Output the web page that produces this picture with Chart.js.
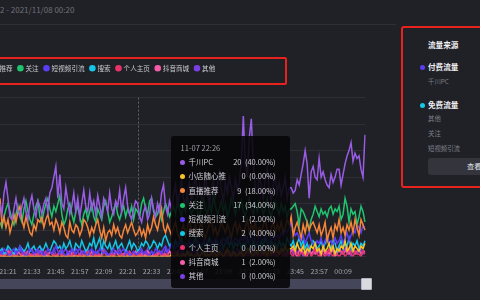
<!DOCTYPE html>
<html>
<head>
<meta charset="utf-8">
<script src="https://cdn.jsdelivr.net/npm/chart.js@4.4.1/dist/chart.umd.min.js"></script>
<style>
body { margin: 0; width: 480px; height: 300px; overflow: hidden; position: relative;
       background: #202127; font-family: "Noto Sans CJK SC", "Noto Sans", sans-serif; }
#range { position: absolute; left: 0; top: 4px; font-size: 8px; color: #6f7078; white-space: nowrap; }
#topline { position: absolute; left: 0; top: 24px; width: 396px; height: 1px; background: #2f3037; }
#wrap { position: absolute; left: -107px; top: 59px; width: 475px; height: 220px; }
#legendMark { position: absolute; left: -10px; top: 57px; width: 297px; height: 28px; box-sizing: border-box;
              border: 2px solid #e8221c; border-radius: 2px; }
#tip { position: absolute; top: 136px; width: 119px; height: 152px; box-sizing: border-box;
       background: rgba(6, 6, 8, 0.88); border-radius: 3px; padding: 4px 14px 0 9px;
       color: #cfd0d6; font-size: 7.5px; opacity: 0; }
#tip .tt { height: 15px; line-height: 15px; color: #a2a3ab; margin-left: 1px; }
#tip .row { height: 14.3px; line-height: 14.3px; display: flex; align-items: center; white-space: nowrap; }
#tip .row i { width: 5px; height: 5px; border-radius: 50%; margin-right: 4px; flex: none; }
#tip .row b { margin-left: auto; font-weight: normal; }
#slider { position: absolute; left: 0; top: 279px; width: 362px; height: 10px; background: #45465a; }
#handle { position: absolute; left: 361px; top: 278px; width: 11px; height: 12px; box-sizing: border-box;
          background: #d9d9e1; border: 1px solid #b5b5be; border-radius: 1px; }
#side { position: absolute; left: 401px; top: 26px; width: 100px; height: 162px; box-sizing: border-box;
        border: 2px solid #e8221c; border-radius: 3px; }
.s { position: absolute; white-space: nowrap; }
.hd { color: #f0f0f4; font-weight: bold; font-size: 7.6px; }
.sub { color: #7e7f88; font-size: 6.4px; }
.dot { position: absolute; width: 5px; height: 5px; border-radius: 50%; }
#btn { position: absolute; left: 428px; top: 158px; width: 80px; height: 17px; background: #34353c; border-radius: 3px; }
</style>
</head>
<body>
<div id="range">2 - 2021/11/08 00:20</div>
<div id="topline"></div>
<div id="wrap"><canvas id="flowChart"></canvas></div>
<div id="legendMark"></div>
<div id="slider"></div>
<div id="handle"></div>

<div id="side"></div>
<div class="s hd" style="left:428px; top:39px;">流量来源</div>
<div class="dot" style="left:420px; top:65px; background:#5b3df5;"></div>
<div class="s hd" style="left:428px; top:61px;">付费流量</div>
<div class="s sub" style="left:428px; top:77px;">千川PC</div>
<div class="dot" style="left:420px; top:103px; background:#13c9ea;"></div>
<div class="s hd" style="left:428px; top:99px;">免费流量</div>
<div class="s sub" style="left:428px; top:114px;">其他</div>
<div class="s sub" style="left:428px; top:129px;">关注</div>
<div class="s sub" style="left:428px; top:144px;">短视频引流</div>
<div id="btn"></div>
<div class="s" style="left:467px; top:161px; color:#e6e6ea; font-size:7.2px;">查看详情</div>

<div id="tip"></div>

<script>
const datePrefix = '11-07';
const startTime = '21:17';
const activeTime = '22:26';

const seriesNames = ['千川PC', '小店随心推', '直播推荐', '关注', '短视频引流', '搜索', '个人主页', '抖音商城', '其他'];
const seriesColors = ['#9a5ce6', '#f7c325', '#f6853a', '#1fc46e', '#5b3df5', '#13c7e9', '#e8336b', '#f45ba8', '#7b3fe4'];

const tickLabels = ['21:21', '21:33', '21:45', '21:57', '22:09', '22:21', '22:33', '22:45', '22:57',
                    '23:09', '23:21', '23:33', '23:45', '23:57', '00:09'];

const qianchuanPC = [
    20,16,24,28,22,15,14,18,22,17,15,19,22,17,14,20,23,18,15,21,
    19,16,20,22,17,24,26,30,34,22,31,20,18,26,21,16,19,24,17,22,
    15,20,25,19,17,24,18,21,16,23,19,15,22,20,17,24,18,16,21,19,
    25,17,22,26,19,16,14,18,21,20,15,13,17,19,14,16,22,18,15,20,
    17,24,27,19,16,21,18,23,27,20,24,29,22,19,25,28,21,26,30,23,
    27,22,25,31,24,20,26,29,23,27,32,25,21,28,24,30,26,22,29,25,
    28,36,53,35,30,45,52,35,26,24,30,27,22,29,33,25,21,27,31,24,
    28,23,26,30,22,26,26,24,25,29,27,31,35,40,35,22,32,34,30,29,
    37,30,32,29,27,26,31,28,30,33,33,27,31,35,38,40,43,36,39,37,
    38,33,30,46
];
const xiaodian = [
    0,0,0,0,0,0,0,0,0,0,0,0,0,0,0,0,0,0,0,0,
    0,0,0,0,0,0,0,0,0,0,0,0,0,0,0,0,0,0,0,0,
    0,0,0,0,0,0,0,0,0,0,0,0,0,0,0,0,0,0,0,0,
    0,0,0,0,0,0,0,0,0,0,0,0,0,0,0,0,0,0,0,0,
    0,0,0,0,0,0,1,0,0,1,0,0,1,0,2,0,1,0,0,1,
    0,1,2,0,1,0,1,2,1,0,2,1,0,1,3,1,0,2,1,0,
    1,2,0,1,3,2,1,0,2,1,3,2,1,2,0,3,1,2,4,2,
    1,3,2,4,2,3,3,4,2,5,3,2,4,1,3,2,4,3,5,2,
    3,1,4,2,3,5,2,4,1,3,2,4,3,6,2,3,5,2,4,3,
    2,4,3,5
];
const zhibo = [
    22,12,15,11,14,9,12,16,13,17,19,14,11,15,12,9,8,12,10,14,
    13,15,11,14,16,12,13,10,14,12,9,13,11,8,7,13,10,9,12,11,
    8,10,14,13,11,8,11,9,12,14,10,7,11,6,9,10,8,12,9,11,
    8,7,10,12,9,11,13,10,8,9,11,8,10,7,12,9,11,15,12,10,
    14,18,11,9,12,10,8,11,13,9,7,10,12,8,11,14,10,9,12,8,
    11,13,9,7,10,12,14,9,11,8,10,13,11,9,12,10,7,11,13,9,
    12,10,8,11,14,9,12,10,13,8,11,9,12,14,10,8,11,13,9,12,
    10,13,9,11,14,12,15,8,11,13,10,7,12,9,13,10,12,13,11,9,
    12,8,10,13,6,9,11,7,12,10,14,9,11,8,12,10,13,9,14,11,
    8,14,12,10
];
const guanzhu = [
    13,11,15,18,20,17,14,12,16,19,15,13,18,21,17,14,12,16,19,21,
    15,13,17,20,22,18,15,19,17,20,23,16,12,14,18,20,16,13,17,19,
    15,12,16,18,14,17,20,15,13,18,16,14,19,21,17,13,15,18,20,16,
    14,17,19,15,18,16,19,14,18,17,15,20,22,18,16,21,22,17,15,16,
    19,14,17,20,18,15,17,19,16,21,18,15,20,17,22,19,16,18,21,17,
    15,19,22,18,16,20,17,23,19,16,18,21,17,20,15,18,22,19,16,20,
    18,21,17,15,19,22,18,16,20,17,21,19,16,18,22,17,15,19,21,18,
    16,20,17,19,15,18,18,19,20,17,12,18,17,15,13,10,14,16,19,17,
    15,18,16,17,15,18,19,16,18,17,19,14,16,22,19,13,18,16,17,12,
    15,19,17,13
];
const duanshipin = [
    2,1,3,2,1,0,2,3,1,2,4,2,1,0,1,3,2,1,2,3,
    1,2,0,1,3,2,1,2,4,2,1,3,1,0,2,1,3,2,1,2,
    3,1,2,1,0,2,3,1,2,1,3,2,1,2,0,1,2,3,1,2,
    1,2,3,1,2,0,1,2,1,1,2,3,1,2,1,0,2,1,3,2,
    2,1,3,4,2,3,5,4,3,5,6,4,3,5,4,6,5,3,4,6,
    5,4,6,7,5,4,6,5,7,6,4,5,7,6,5,8,6,5,7,6,
    5,7,6,8,6,5,7,9,6,5,8,7,6,8,7,5,9,7,6,8,
    7,9,8,10,9,11,13,10,8,9,7,6,8,5,7,9,6,5,4,6,
    5,7,4,6,8,5,6,4,7,5,6,8,5,7,9,6,8,10,9,12,
    11,9,12,10
];
const sousuo = [
    2,3,1,2,4,3,2,1,3,2,4,3,2,3,5,2,3,4,2,3,
    4,2,3,5,3,2,4,6,5,3,4,2,5,3,4,6,3,2,5,4,
    3,6,4,2,3,5,4,7,3,5,7,2,6,4,3,5,2,4,6,3,
    4,5,3,2,4,6,3,5,4,2,3,5,4,6,5,3,4,6,5,3,
    5,4,7,8,6,4,5,3,6,4,5,7,3,5,4,6,3,5,7,4,
    5,3,6,4,5,7,4,3,6,5,4,6,3,5,7,4,6,3,5,4,
    6,3,5,4,7,5,3,6,4,5,3,6,4,7,5,3,6,4,5,3,
    6,4,5,3,7,5,4,6,3,5,7,4,6,3,5,2,4,6,5,3,
    4,6,3,5,7,4,3,6,5,2,4,6,3,5,4,7,3,5,4,6,
    3,5,4,6
];
const gerenZhuye = [
    1,0,1,0,0,2,1,0,1,0,0,1,2,0,1,0,1,0,0,1,
    0,1,0,2,1,0,0,1,0,1,2,0,1,0,0,1,0,2,1,0,
    1,0,0,1,2,1,0,0,1,0,1,0,2,1,0,0,1,0,1,2,
    0,1,0,0,1,2,0,1,0,0,1,0,1,2,0,1,0,0,1,0,
    2,0,1,0,1,0,0,2,1,0,1,0,0,1,2,0,1,0,1,0,
    0,1,2,0,1,0,1,0,0,2,1,0,1,0,1,2,0,1,0,1,
    1,0,2,1,0,1,0,1,2,0,1,0,1,0,2,1,0,1,2,0,
    1,2,0,1,0,2,1,0,3,1,0,2,1,0,1,2,0,1,3,1,
    0,2,1,0,1,3,1,0,2,1,0,1,2,0,1,3,1,0,2,1,
    1,0,2,1
];
const douyinShangcheng = [
    0,1,0,1,2,0,1,1,0,2,1,0,1,0,2,1,0,1,1,0,
    2,1,0,1,0,2,1,1,0,1,2,0,1,0,1,2,1,0,1,0,
    1,2,0,1,1,0,2,1,0,1,0,1,2,1,0,1,1,0,2,1,
    0,1,1,2,0,1,0,1,2,1,0,1,1,0,2,1,0,1,0,1,
    2,0,1,1,0,2,1,0,1,2,0,1,1,0,2,1,1,0,1,2,
    0,1,2,1,0,1,3,1,0,2,1,1,0,2,1,0,1,2,0,1,
    2,1,0,1,2,1,0,3,1,2,0,1,2,1,0,2,1,3,1,0,
    2,1,3,0,2,1,2,3,1,0,2,3,1,2,0,3,1,2,1,3,
    2,0,3,1,2,1,3,2,0,1,3,2,1,2,4,1,2,3,1,2,
    3,1,2,2
];
const qita = [
    1,2,0,1,3,1,2,0,2,1,3,1,0,2,1,2,3,1,0,2,
    1,3,2,0,1,2,1,3,1,0,2,1,2,3,1,0,2,1,3,2,
    0,1,2,1,3,1,0,2,1,2,0,1,3,2,1,0,2,1,2,1,
    3,1,0,2,1,2,1,0,2,0,1,2,0,1,3,1,2,0,1,2,
    1,2,0,3,1,2,1,0,2,1,3,1,2,0,1,2,1,3,0,2,
    1,2,0,1,3,2,1,0,2,1,2,3,1,0,2,1,2,0,1,3,
    2,1,0,2,1,3,1,2,0,1,2,1,3,0,2,1,2,1,0,2,
    1,3,2,1,0,2,3,1,2,1,3,2,0,1,2,4,1,2,3,1,
    2,1,3,2,1,0,2,3,1,2,4,1,2,3,1,2,0,3,2,1,
    2,3,1,2
];

const allSeries = [qianchuanPC, xiaodian, zhibo, guanzhu, duanshipin, sousuo, gerenZhuye, douyinShangcheng, qita];

// minute labels, one per data point
const times = [];
let [hh, mm] = startTime.split(':').map(Number);
for (let i = 0; i < qianchuanPC.length; i++) {
    times.push(String(hh).padStart(2, '0') + ':' + String(mm).padStart(2, '0'));
    mm++;
    if (mm === 60) { mm = 0; hh = (hh + 1) % 24; }
}

const AXIS_W = 107;

const crosshair = {
    id: 'crosshair',
    beforeDatasetsDraw(chart) {
        const act = chart.tooltip.getActiveElements();
        if (!act.length) return;
        const x = Math.round(act[0].element.x) + 0.5;
        const { top, bottom } = chart.chartArea;
        const c = chart.ctx;
        c.save();
        c.strokeStyle = 'rgba(120,122,132,0.7)';
        c.lineWidth = 1;
        c.setLineDash([2, 2]);
        c.beginPath();
        c.moveTo(x, top);
        c.lineTo(x, bottom);
        c.stroke();
        c.restore();
    }
};

const legendGap = {
    id: 'legendGap',
    beforeInit(chart) {
        const fit = chart.legend.fit;
        chart.legend.fit = function () {
            fit.bind(chart.legend)();
            this.height += 16;
        };
    }
};

function renderTip(context) {
    const tip = context.tooltip;
    const el = document.getElementById('tip');
    if (tip.opacity === 0 || !tip.dataPoints) { el.style.opacity = 0; return; }
    const pts = tip.dataPoints.slice().sort((a, b) => a.datasetIndex - b.datasetIndex);
    const total = pts.reduce((s, p) => s + p.raw, 0);
    let html = `<div class="tt">${datePrefix} ${pts[0].label}</div>`;
    pts.forEach(p => {
        const pct = total ? (p.raw / total * 100).toFixed(2) : '0.00';
        html += `<div class="row"><i style="background:${seriesColors[p.datasetIndex]}"></i>` +
                `<span>${seriesNames[p.datasetIndex]}</span><b>${p.raw}&nbsp;&nbsp;(${pct}%)</b></div>`;
    });
    el.innerHTML = html;
    el.style.left = (-AXIS_W + tip.caretX + 33) + 'px';
    el.style.opacity = 1;
}

const ctx = document.getElementById('flowChart').getContext('2d');
const chart = new Chart(ctx, {
    type: 'line',
    data: {
        labels: times,
        datasets: allSeries.map((s, i) => ({
            label: seriesNames[i],
            data: s,
            borderColor: seriesColors[i],
            backgroundColor: seriesColors[i],
            borderWidth: 1.5,
            pointRadius: 0,
            pointHoverRadius: 0,
            tension: 0
        }))
    },
    options: {
        responsive: true,
        maintainAspectRatio: false,
        animation: false,
        layout: { padding: { top: 0, right: 3, bottom: 0, left: 0 } },
        interaction: { mode: 'index', intersect: false },
        plugins: {
            legend: {
                position: 'top',
                align: 'start',
                labels: {
                    usePointStyle: true,
                    pointStyle: 'circle',
                    boxWidth: 3.6,
                    boxHeight: 3.6,
                    padding: 6,
                    color: '#c9cad0',
                    font: { size: 6.6, family: '"Noto Sans CJK SC", sans-serif' }
                }
            },
            tooltip: { enabled: false, external: renderTip }
        },
        scales: {
            x: {
                type: 'category',
                grid: { display: false },
                border: { color: '#2f3037' },
                ticks: {
                    autoSkip: false,
                    maxRotation: 0,
                    padding: 3,
                    color: '#a3a4ab',
                    font: { size: 7, family: '"Noto Sans CJK SC", sans-serif' },
                    callback: function (val) {
                        const lab = this.getLabelForValue(val);
                        return tickLabels.includes(lab) ? lab : null;
                    }
                }
            },
            y: {
                min: 0,
                max: 60,
                ticks: { display: false, stepSize: 10 },
                grid: { color: '#2e2f36', drawTicks: false },
                border: { display: false },
                afterFit: (scale) => { scale.width = AXIS_W; }
            }
        }
    },
    plugins: [crosshair, legendGap]
});

const idx = times.indexOf(activeTime);
chart.tooltip.setActiveElements(allSeries.map((s, i) => ({ datasetIndex: i, index: idx })), { x: 0, y: 0 });
chart.draw();
</script>
</body>
</html>
